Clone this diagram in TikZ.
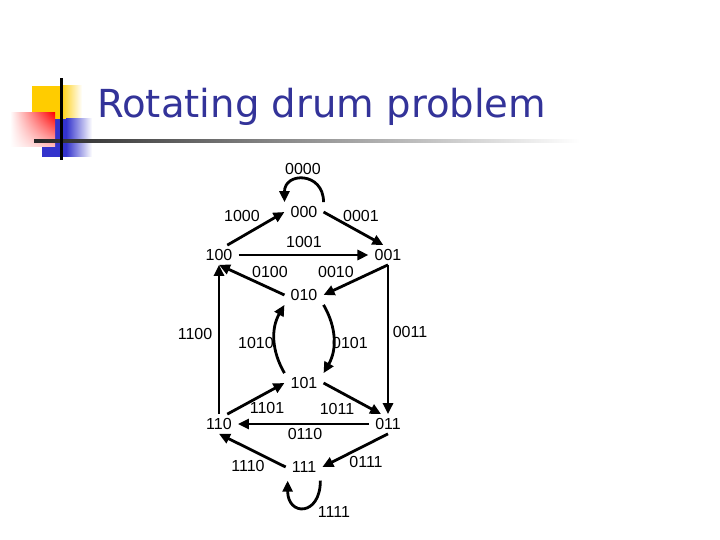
\documentclass[tikz,border=0pt]{standalone}
\usepackage{fontspec}
\setmainfont{Liberation Sans}
\newfontfamily\titlefont{DejaVu Sans}
\usetikzlibrary{arrows.meta,shadings}
\definecolor{titleblue}{RGB}{51,51,153}
\definecolor{decoyellow}{RGB}{255,204,0}
\definecolor{decoblue}{RGB}{51,51,204}

\begin{document}
\begin{tikzpicture}[x=1pt,y=1pt,
			>={Triangle[length=11pt,width=10pt]},
			state node/.style={inner xsep=6pt,inner ysep=4pt,font=\fontsize{16}{19}\selectfont},
			edge label/.style={inner sep=0pt,font=\fontsize{16}{19}\selectfont},
			arc edge/.style={->,line width=2.8pt}
			]
			
			\useasboundingbox (0,0) rectangle (720,-540);
			
			% title decoration
			\fill[decoyellow] (32,-86) rectangle (60,-119);
			\shade[left color=decoyellow,right color=white] (60,-86) rectangle (82,-119);
			\fill[decoblue] (42,-119) rectangle (66,-157);
			\shade[left color=decoblue,right color=white] (66,-119) rectangle (92,-157);
			\shade[upper right=red,upper left=white,lower right=red!25,lower left=white] (10,-113) rectangle (55,-147);
			\shade[left color=black!85,right color=white] (34,-139.5) rectangle (580,-142.5);
			\fill[black] (59.5,-78) rectangle (62.5,-160);
			\node[anchor=base west,inner sep=0pt,text=titleblue,font=\titlefont\fontsize{38.6}{44}\selectfont] (title) at (97,-118) {Rotating drum problem};
			
			\foreach \s/\x/\y in {000/304/212, 001/388/255, 010/304/295, 011/388/424, 100/219/255, 101/304/383, 110/219/424, 111/304/467} {
				\node[state node] (n\s) at (\x,-\y) {\s};
			}
			
			\foreach \s/\x/\y in {0000/303/169, 1000/242/216, 0001/361/216, 1001/304/242, 0100/270/272, 0010/336/272, 1100/195/334, 1010/256/343, 0101/350/343, 0011/410/332, 1101/267/408, 1011/337/409, 0110/305/434, 1110/248/466, 0111/366/462, 1111/334/512} {
				\node[edge label] (l\s) at (\x,-\y) {\s};
			}
			
			\foreach \a/\b in {100.50/000.west, 000.east/001.115, 100/001, 001.south/010.east, 010.west/100.south, 110/100, 001/011, 110.50/101.west, 101.east/011.125, 011/110, 011.south/111.east, 111.west/110.south} {
				\draw[arc edge] (n\a) -- (n\b);
			}
			\draw[arc edge] (n000.north east) to[out=90,in=90,looseness=2] (n000.north west);
			\draw[arc edge] ([xshift=-2pt,yshift=-4pt]n111.south east) to[out=-90,in=-90,looseness=2.8] ([xshift=2pt,yshift=-4pt]n111.south west);
			\draw[arc edge] (n010.south east) to[bend left=30] (n101.north east);
			\draw[arc edge] (n101.north west) to[bend left=30] (n010.south west);
			
\end{tikzpicture}
\end{document}
